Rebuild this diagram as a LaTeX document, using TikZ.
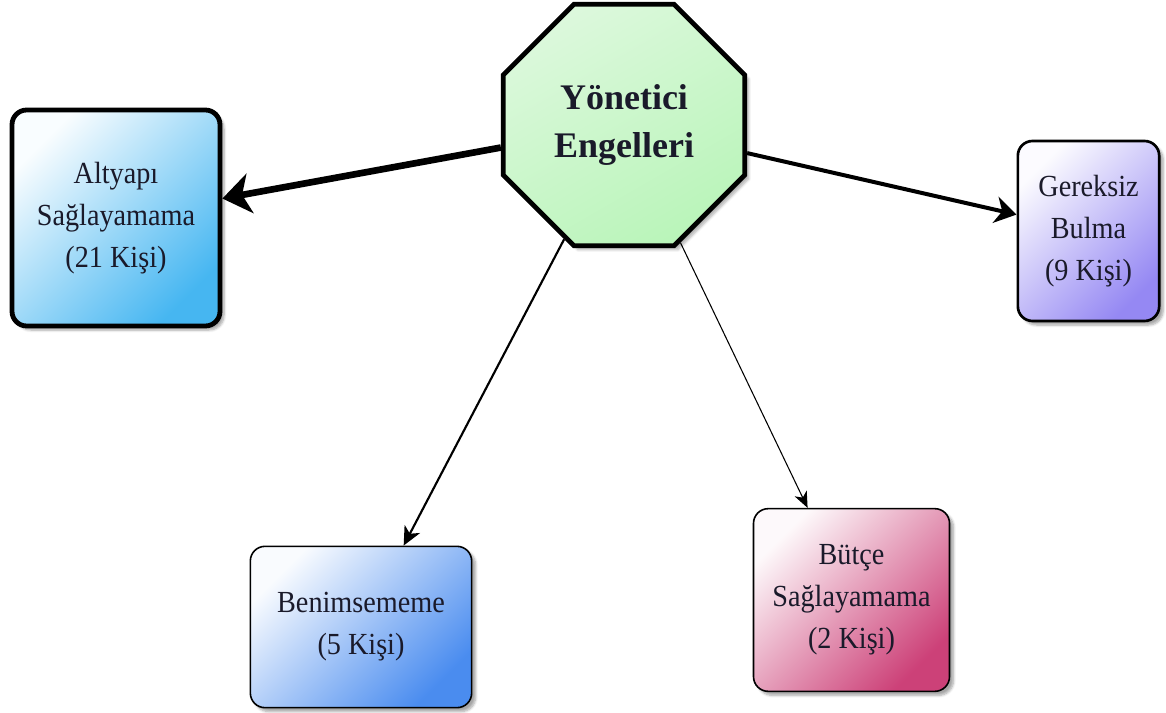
\documentclass[tikz,border=0pt]{standalone}
\usepackage{fontspec}
\setmainfont{Liberation Serif}
\newfontfamily\boxfont[FakeStretch=0.92]{Liberation Serif}
\usetikzlibrary{shapes.geometric,arrows.meta,shadows.blur}

\definecolor{txt}{HTML}{1A1A2A}
\definecolor{blueA}{HTML}{36B0F0}
\definecolor{blueB}{HTML}{3A82EE}
\definecolor{lilac}{HTML}{8C7EF2}
\definecolor{rose}{HTML}{C8306C}
\definecolor{mint}{HTML}{C4F4C4}

\tikzset{
  boxbase/.style={draw=black, rounded corners=11pt, align=center, text=txt,
    font=\boxfont\fontsize{23}{31.5}\selectfont, inner sep=0pt,
    blur shadow={shadow xshift=3pt, shadow yshift=-3pt, shadow opacity=35, shadow blur steps=6}},
  shadefill/.style={shading=axis, top color=#1!3!white, middle color=#1!38!white,
    bottom color=#1!92!white, shading angle=45},
  hub/.style={regular polygon, regular polygon sides=8, draw=black, line width=3.6pt,
    minimum size=196pt, inner sep=0pt, align=center, text=txt,
    font=\bfseries\fontsize{27}{36}\selectfont,
    shading=axis, top color=mint!60!white, bottom color=mint!95!green, shading angle=30,
    blur shadow={shadow xshift=3pt, shadow yshift=-3pt, shadow opacity=30, shadow blur steps=6}},
  link/.style={draw=black}
}

\begin{document}
\begin{tikzpicture}[x=0.75pt,y=-0.75pt]
  \useasboundingbox (0,0) rectangle (1166,713);

  % central node
  \node[hub] (core) at (624,125) {Yönetici\\Engelleri};

  % outcome boxes
  \node[boxbase, line width=3.6pt, minimum width=156pt, minimum height=162pt,
        shadefill=blueA] (infra) at (116,218)
        {Altyapı\\Sağlayamama\\(21 Kişi)};
  \node[boxbase, line width=2pt, minimum width=106pt, minimum height=135pt,
        shadefill=lilac] (need) at (1088.5,231)
        {Gereksiz\\Bulma\\(9 Kişi)};
  \node[boxbase, line width=1.2pt, minimum width=166pt, minimum height=121pt,
        shadefill=blueB] (adopt) at (361,627)
        {Benimsememe\\(5 Kişi)};
  \node[boxbase, line width=1.2pt, minimum width=147pt, minimum height=137pt,
        shadefill=rose] (budget) at (851.5,600)
        {Bütçe\\Sağlayamama\\(2 Kişi)};

  % connectors, thickness by head count
  \draw[link, line width=5pt, -{Stealth[length=21pt, width=30pt, inset=6pt]}] (core) -- (infra);
  \draw[link, line width=3pt, -{Stealth[length=16pt, width=20pt, inset=5pt]}] (core) -- (need);
  \draw[link, line width=1.6pt, -{Stealth[length=14pt, width=13pt, inset=4pt]}] (core) -- (adopt);
  \draw[link, line width=0.8pt, -{Stealth[length=12pt, width=10pt, inset=3.5pt]}] (core) -- (budget);
\end{tikzpicture}
\end{document}
